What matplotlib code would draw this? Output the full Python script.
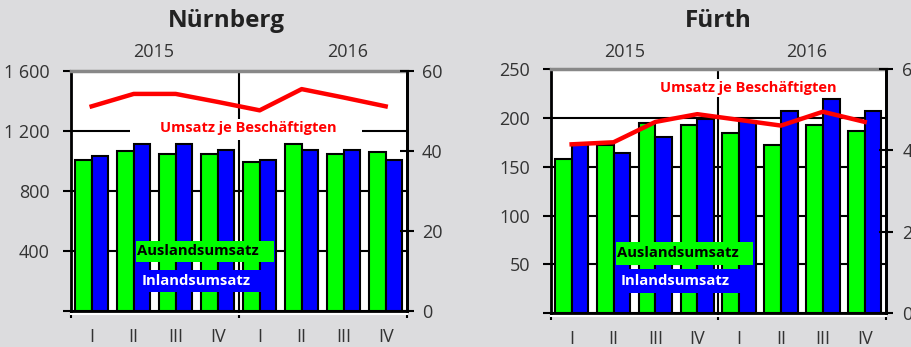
import matplotlib
matplotlib.use("Agg")
import matplotlib.pyplot as plt
from matplotlib.patches import Rectangle
import numpy as np

plt.rcParams['font.family'] = ['Open Sans', 'DejaVu Sans']

# ---- data -------------------------------------------------------------
quarters = ['I', 'II', 'III', 'IV', 'I', 'II', 'III', 'IV']
years = ['2015', '2016']

nbg_ausland = [1007, 1062, 1047, 1047, 993, 1113, 1047, 1060]
nbg_inland = [1035, 1113, 1113, 1073, 1007, 1073, 1073, 1007]
nbg_umsatz = [51.1, 54.2, 54.2, 52.2, 50.1, 55.4, 53.3, 51.1]

fue_ausland = [158, 172, 195, 192.5, 184.6, 172, 192.5, 186.7]
fue_inland = [173, 164, 180.5, 199, 197, 207, 219, 207]
fue_umsatz = [41.5, 42.0, 47.0, 48.9, 47.5, 46.1, 49.5, 47.0]

nbg_left_ticks = [0, 400, 800, 1200, 1600]
nbg_left_labels = ['', '400', '800', '1 200', '1 600']
fue_left_ticks = [0, 50, 100, 150, 200, 250]
fue_left_labels = ['', '50', '100', '150', '200', '250']
right_ticks = [0, 20, 40, 60]
right_labels = ['0', '20', '40', '60']

# ---- style ------------------------------------------------------------
BG = '#dcdcde'
GREEN = '#00ff00'
BLUE = '#0000ff'
RED = '#ff0000'
TXT = '#333333'
FS = 13

fig = plt.figure(figsize=(9.11, 3.47), dpi=100, facecolor=BG)


def panel(rect, title, title_x, aus, inl, ums, lticks, llabels, ylim,
          year_x, year_y, umsatz_xy, umsatz_box, leg, rpad):
    ax = fig.add_axes(rect)
    ax.set_facecolor('white')
    x = np.arange(len(quarters))
    ax.bar(x - 0.2, aus, width=0.4, color=GREEN, edgecolor='black',
           linewidth=1.5, zorder=2)
    ax.bar(x + 0.2, inl, width=0.4, color=BLUE, edgecolor='black',
           linewidth=1.5, zorder=2)
    ax.set_xlim(-0.5, len(quarters) - 0.5)
    ax.set_ylim(*ylim)
    ax.set_axisbelow(True)
    ax.yaxis.grid(True, color='black', linewidth=1.5)
    ax.axvline(3.5, color='black', linewidth=1.5, zorder=0.6)

    ax.set_yticks(lticks)
    ax.set_yticklabels(llabels)
    ax.tick_params(axis='y', direction='out', length=6, width=1.5,
                   labelsize=FS, labelcolor=TXT, pad=9)
    ax.set_xticks([-0.5, 3.5, 7.5])
    ax.set_xticklabels([])
    ax.tick_params(axis='x', which='major', direction='out', length=5,
                   width=1.5)
    ax.set_xticks(x, minor=True)
    ax.set_xticklabels(quarters, minor=True)
    ax.tick_params(axis='x', which='minor', length=0, labelsize=FS,
                   labelcolor=TXT, pad=12)

    for s in ['left', 'right', 'bottom']:
        ax.spines[s].set_linewidth(2)
        ax.spines[s].set_color('black')
    ax.spines['top'].set_linewidth(2.5)
    ax.spines['top'].set_color('#888888')

    # thin light rule just below the base line
    ax.plot([0, 1], [-0.012, -0.012], transform=ax.transAxes,
            color='white', linewidth=1.5, clip_on=False, zorder=1)

    ax2 = ax.twinx()
    ax2.plot(x, ums, color=RED, linewidth=3.2, solid_joinstyle='round',
             zorder=3)
    ax2.set_ylim(0, 60)
    ax2.set_yticks(right_ticks)
    ax2.set_yticklabels(right_labels)
    ax2.tick_params(axis='y', direction='inout', length=10, width=1.5,
                    labelsize=FS, labelcolor=TXT, pad=rpad)
    for s in ['left', 'top', 'bottom']:
        ax2.spines[s].set_visible(False)
    ax2.spines['right'].set_linewidth(2)

    # white gap behind the line label
    if umsatz_box is not None:
        bx0, by0, bw, bh = umsatz_box
        ax.add_patch(Rectangle((bx0, by0), bw, bh, transform=ax.transAxes,
                               facecolor='white', edgecolor='none',
                               zorder=1.5))
    ax2.text(umsatz_xy[0], umsatz_xy[1], 'Umsatz je Beschäftigten',
             transform=ax2.transAxes, ha='center', va='center',
             color=RED, fontsize=10.5, fontweight='bold', zorder=4,
             bbox=dict(boxstyle='square,pad=0.15', facecolor='white',
                       edgecolor='none'))

    # series labels
    (gx, gy, gw, gh, gtx, gty), (bx, by, bw2, bh2, btx, bty) = leg
    ax2.add_patch(Rectangle((gx, gy), gw, gh, transform=ax2.transAxes,
                            facecolor=GREEN, edgecolor='none', zorder=5))
    ax2.text(gtx, gty, 'Auslandsumsatz', transform=ax2.transAxes,
             ha='left', va='center', color='black', fontsize=10.7,
             fontweight='bold', zorder=6)
    ax2.add_patch(Rectangle((bx, by), bw2, bh2, transform=ax2.transAxes,
                            facecolor=BLUE, edgecolor='none', zorder=5))
    ax2.text(btx, bty, 'Inlandsumsatz', transform=ax2.transAxes,
             ha='left', va='center', color='white', fontsize=10.7,
             fontweight='bold', zorder=6)

    for yr, yx in zip(years, year_x):
        ax.text(yx, year_y, yr, transform=ax.transAxes, ha='center',
                va='center', fontsize=FS, color=TXT)

    fig.text(title_x, 1 - 21 / 347, title, ha='center', va='center',
             fontsize=17.5, fontweight='bold', color='#222222')
    return ax, ax2


panel([0.0776, 0.1037, 0.3688, 0.6926], 'Nürnberg', 0.249,
      nbg_ausland, nbg_inland, nbg_umsatz, nbg_left_ticks, nbg_left_labels,
      (0, 1600), (0.247, 0.824), 1.078, (0.528, 0.762),
      (0.176, 0.712, 0.691, 0.083),
      ((0.194, 0.204, 0.411, 0.087, 0.197, 0.248),
       (0.194, 0.079, 0.400, 0.092, 0.212, 0.125)), 6)

panel([0.6045, 0.0971, 0.3677, 0.7041], 'Fürth', 0.788,
      fue_ausland, fue_inland, fue_umsatz, fue_left_ticks, fue_left_labels,
      (0, 250), (0.222, 0.763), 1.07, (0.589, 0.922), None,
      ((0.195, 0.198, 0.409, 0.094, 0.198, 0.245),
       (0.195, 0.083, 0.380, 0.098, 0.210, 0.132)), 7)

fig.savefig('out.png', dpi=100, facecolor=BG)
